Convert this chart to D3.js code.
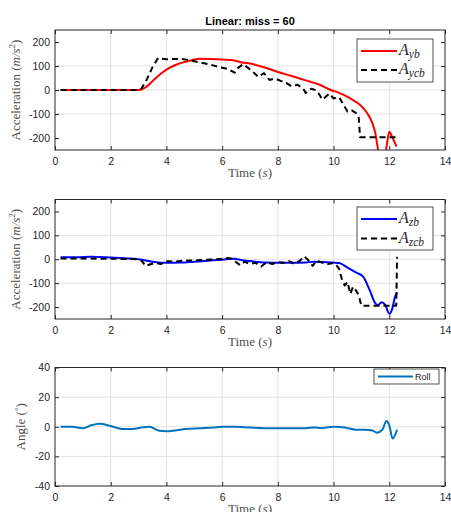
<!DOCTYPE html>
<html>
<head>
<meta charset="utf-8">
<script src="https://cdn.jsdelivr.net/npm/d3@7"></script>
<style>
  body { margin: 0; background: #fff; }
  svg { display: block; }
</style>
</head>
<body>
<div id="chart"></div>
<script>
// time axis ticks (shared)
const timeTicks = [0, 2, 4, 6, 8, 10, 12, 14]

// panel 1: lateral acceleration
const ybT = [0.2, 1, 2, 3, 3.1, 3.3, 3.55, 3.8, 4.0, 4.3, 4.6, 4.9, 5.2, 5.6, 6.0, 6.4, 6.7, 7.0, 7.5, 8.0, 8.5, 9.0, 9.5, 9.9, 10.2, 10.6, 10.95, 11.2, 11.4, 11.5, 11.6, 11.75, 11.88, 12.0, 12.1, 12.26]
const ybV = [0, 0, 0, 0, 2, 15, 43, 68, 85, 103, 115, 124, 130, 129, 127, 124, 115, 110, 95, 75, 58, 40, 22, 0, -12, -35, -62, -95, -140, -180, -250, -290, -250, -174, -195, -236]
const ycbT = [0.2, 1, 2, 3, 3.1, 3.3, 3.5, 3.7, 4.0, 4.5, 4.8, 5.2, 5.6, 5.9, 6.2, 6.45, 6.55, 6.75, 6.9, 7.1, 7.3, 7.5, 7.7, 7.9, 8.1, 8.3, 8.5, 8.7, 8.9, 9.0, 9.2, 9.4, 9.6, 9.7, 9.85, 10.0, 10.2, 10.35, 10.5, 10.65, 10.8, 10.9, 10.95, 11.5, 12.3]
const ycbV = [0, 0, 0, 0, 5, 45, 95, 133, 128, 130, 125, 115, 105, 95, 88, 72, 90, 108, 95, 76, 55, 70, 42, 48, 38, 30, 15, 22, 8, -12, 5, -2, -40, -30, -15, -35, -30, -60, -90, -85, -95, -110, -197, -197, -197]

// panel 2: vertical acceleration
const zbT = [0.2, 0.8, 1.3, 2.0, 2.5, 3.0, 3.5, 4.0, 4.5, 5.0, 5.5, 6.0, 6.4, 6.8, 7.2, 7.6, 8.0, 8.5, 9.0, 9.3, 9.6, 10.0, 10.2, 10.5, 10.8, 11.06, 11.3, 11.5, 11.6, 11.72, 11.85, 12.0, 12.1, 12.2, 12.28]
const zbV = [8, 8, 10, 7, 4, 0, -10, -15, -14, -10, -6, -2, 2, -5, -10, -14, -15, -15, -14, -10, -12, -14, -16, -35, -55, -73, -130, -185, -192, -180, -190, -228, -210, -160, -138]
const zcbT = [0.2, 1, 2, 3, 3.1, 3.25, 3.4, 3.6, 3.8, 4.0, 4.3, 4.6, 5.0, 5.4, 5.8, 6.2, 6.35, 6.5, 6.65, 6.8, 7.0, 7.2, 7.4, 7.6, 7.8, 8.0, 8.2, 8.4, 8.6, 8.8, 8.95, 9.1, 9.25, 9.4, 9.6, 9.8, 10.0, 10.1, 10.2, 10.3, 10.4, 10.5, 10.6, 10.7, 10.8, 10.9, 11.0, 11.5, 12.0, 12.25, 12.28]
const zcbV = [3, 3, 2, 0, -5, -28, -22, -15, -20, -8, -10, -6, -5, -2, 0, 5, 2, -12, -25, -10, -20, -15, -30, -12, -20, -12, -15, -8, -20, -5, 12, -5, -28, -5, -15, -20, -15, -25, -40, -85, -110, -95, -145, -115, -130, -150, -195, -195, -195, -195, 10]

// panel 3: roll angle
const rollT = [0.2, 0.6, 1.0, 1.3, 1.6, 2.0, 2.4, 2.8, 3.1, 3.4, 3.7, 4.0, 4.3, 4.7, 5.2, 5.7, 6.0, 6.5, 7.0, 7.5, 8.0, 8.5, 9.0, 9.3, 9.6, 10.0, 10.4, 10.8, 11.1, 11.4, 11.55, 11.75, 11.9, 12.0, 12.12, 12.2, 12.28]
const rollV = [0, 0, -1, 1, 2, 0.5, -1.5, -1.5, -0.5, 0, -2.5, -3, -2.5, -1.5, -1, -0.5, 0, 0, -0.5, -1, -1, -1, -1, -0.5, -0.8, 0, -0.5, -2, -2, -2.5, -4, -2, 3.8, 1, -8, -6, -2]

const accTicks = [-200, -100, 0, 100, 200]
const angleTicks = [-40, -20, 0, 20, 40]

const W = 451, H = 512
const left = 55, right = 445
const tickFont = '"Liberation Sans", Arial, sans-serif'
const texFont = '"Liberation Serif", "Times New Roman", serif'
const ink = '#262626'
const labelInk = '#4d4d4d'

const svg = d3.select('#chart').append('svg')
  .attr('width', W).attr('height', H)

const x = d3.scaleLinear().domain([0, 14]).range([left, right])

const zip = (t, v) => t.map((d, i) => [d, v[i]])
const plain = d => String(d) // hyphen minus, like MATLAB

function drawPanel (conf) {
  const {id, top, bottom, domain, ticks, series, legend} = conf
  const y = d3.scaleLinear().domain(domain).range([bottom, top])
  const g = svg.append('g')

  // grid
  g.append('g').selectAll('line').data(timeTicks.slice(1, -1)).join('line')
    .attr('x1', d => x(d)).attr('x2', d => x(d))
    .attr('y1', top).attr('y2', bottom)
    .attr('stroke', '#e3e3e3').attr('stroke-width', 1)
  g.append('g').selectAll('line').data(ticks.slice(1, -1)).join('line')
    .attr('x1', left).attr('x2', right)
    .attr('y1', d => y(d)).attr('y2', d => y(d))
    .attr('stroke', '#e3e3e3').attr('stroke-width', 1)

  // clip + lines
  svg.append('clipPath').attr('id', `clip-${id}`)
    .append('rect').attr('x', left).attr('y', top)
    .attr('width', right - left).attr('height', bottom - top)

  const line = d3.line().x(d => x(d[0])).y(d => y(d[1]))
  const lg = g.append('g').attr('clip-path', `url(#clip-${id})`)
  series.forEach(s => {
    lg.append('path')
      .attr('d', line.curve(s.curve || d3.curveLinear)(zip(s.t, s.v)))
      .attr('fill', 'none')
      .attr('stroke', s.color)
      .attr('stroke-width', s.width || 2)
      .attr('stroke-dasharray', s.dash || null)
      .attr('stroke-linejoin', 'round')
  })

  // axes (ticks point inward, MATLAB style)
  const styleAxis = a => {
    a.select('.domain').remove()
    a.selectAll('line').attr('stroke', ink)
    a.selectAll('text').attr('fill', ink).attr('font-family', tickFont).attr('font-size', 10.5)
  }
  g.append('g').attr('transform', `translate(0,${bottom})`)
    .call(d3.axisBottom(x).tickValues(timeTicks).tickFormat(plain).tickSizeInner(-4).tickSizeOuter(0).tickPadding(8))
    .call(styleAxis)
  g.append('g').attr('transform', `translate(0,${top})`)
    .call(d3.axisTop(x).tickValues(timeTicks).tickSizeInner(-4).tickSizeOuter(0).tickFormat(''))
    .call(styleAxis)
  g.append('g').attr('transform', `translate(${left},0)`)
    .call(d3.axisLeft(y).tickValues(ticks).tickFormat(plain).tickSizeInner(-4).tickSizeOuter(0).tickPadding(5))
    .call(styleAxis)
  g.append('g').attr('transform', `translate(${right},0)`)
    .call(d3.axisRight(y).tickValues(ticks).tickSizeInner(-4).tickSizeOuter(0).tickFormat(''))
    .call(styleAxis)

  g.append('rect').attr('x', left).attr('y', top)
    .attr('width', right - left).attr('height', bottom - top)
    .attr('fill', 'none').attr('stroke', ink).attr('stroke-width', 1)

  // x label
  const xl = g.append('text')
    .attr('x', (left + right) / 2).attr('y', bottom + 27)
    .attr('text-anchor', 'middle')
    .attr('font-family', texFont).attr('font-size', 13).attr('fill', labelInk)
  xl.append('tspan').text('Time (')
  xl.append('tspan').attr('font-style', 'italic').text('s')
  xl.append('tspan').text(')')

  // y label
  const yl = g.append('text')
    .attr('transform', `translate(${conf.ylabelX},${(top + bottom) / 2}) rotate(-90)`)
    .attr('text-anchor', 'middle')
    .attr('font-family', texFont).attr('font-size', 13).attr('fill', labelInk)
  conf.ylabel(yl)

  // legend
  if (legend) {
    const lgd = g.append('g')
    lgd.append('rect').attr('x', legend.x0).attr('y', legend.y0)
      .attr('width', legend.x1 - legend.x0).attr('height', legend.y1 - legend.y0)
      .attr('fill', '#fff').attr('stroke', ink).attr('stroke-width', 0.8)
    legend.items.forEach((it, i) => {
      const ly = legend.rowY[i]
      lgd.append('line')
        .attr('x1', legend.lx0).attr('x2', legend.lx1)
        .attr('y1', ly).attr('y2', ly)
        .attr('stroke', it.color).attr('stroke-width', 2)
        .attr('stroke-dasharray', it.dash || null)
      const t = lgd.append('text').attr('x', legend.lx1 + 2).attr('y', ly + legend.textDy)
        .attr('fill', ink)
      if (it.sub) {
        t.attr('font-family', texFont).attr('font-style', 'italic').attr('font-size', 16)
        t.append('tspan').text(it.label)
        t.append('tspan').attr('font-size', 11.5).attr('dy', 3).text(it.sub)
      } else {
        t.attr('font-family', tickFont).attr('font-size', 9).text(it.label)
      }
    })
  }
}

const accLabel = yl => {
  yl.append('tspan').text('Acceleration (')
  yl.append('tspan').attr('font-style', 'italic').text('m/s')
  yl.append('tspan').attr('font-size', 9).attr('dy', -5).text('2')
  yl.append('tspan').attr('dy', 5).text(')')
}

drawPanel({
  id: 'ay', top: 30, bottom: 150, domain: [-250, 250], ticks: accTicks, ylabelX: 20,
  ylabel: accLabel,
  series: [
    {t: ybT, v: ybV, color: '#ff0000', curve: d3.curveMonotoneX},
    {t: ycbT, v: ycbV, color: '#000', dash: '6,4'}
  ],
  legend: {
    x0: 357, x1: 433, y0: 39, y1: 82, lx0: 361, lx1: 397, rowY: [51, 70], textDy: 4,
    items: [
      {label: 'A', sub: 'yb', color: '#ff0000'},
      {label: 'A', sub: 'ycb', color: '#000', dash: '6,4'}
    ]
  }
})

drawPanel({
  id: 'az', top: 199.5, bottom: 319, domain: [-250, 250], ticks: accTicks, ylabelX: 20,
  ylabel: accLabel,
  series: [
    {t: zbT, v: zbV, color: '#0000ff', curve: d3.curveMonotoneX},
    {t: zcbT, v: zcbV, color: '#000', dash: '6,4'}
  ],
  legend: {
    x0: 357, x1: 433, y0: 207, y1: 250, lx0: 361, lx1: 397, rowY: [219, 238.5], textDy: 4,
    items: [
      {label: 'A', sub: 'zb', color: '#0000ff'},
      {label: 'A', sub: 'zcb', color: '#000', dash: '6,4'}
    ]
  }
})

drawPanel({
  id: 'roll', top: 367.5, bottom: 486, domain: [-40, 40], ticks: angleTicks, ylabelX: 25,
  ylabel: yl => {
    yl.append('tspan').text('Angle (')
    yl.append('tspan').attr('font-size', 9).attr('dy', -4).text('°')
    yl.append('tspan').attr('dy', 4).text(')')
  },
  series: [
    {t: rollT, v: rollV, color: '#0072bd', curve: d3.curveMonotoneX}
  ],
  legend: {
    x0: 374, x1: 439, y0: 369, y1: 384, lx0: 378, lx1: 413, rowY: [376.5], textDy: 3,
    items: [
      {label: 'Roll', color: '#0072bd'}
    ]
  }
})

// title
svg.append('text')
  .attr('x', (left + right) / 2).attr('y', 25)
  .attr('text-anchor', 'middle')
  .attr('font-family', tickFont).attr('font-weight', 'bold').attr('font-size', 11)
  .attr('fill', '#000')
  .text('Linear: miss = 60')
</script>
</body>
</html>
